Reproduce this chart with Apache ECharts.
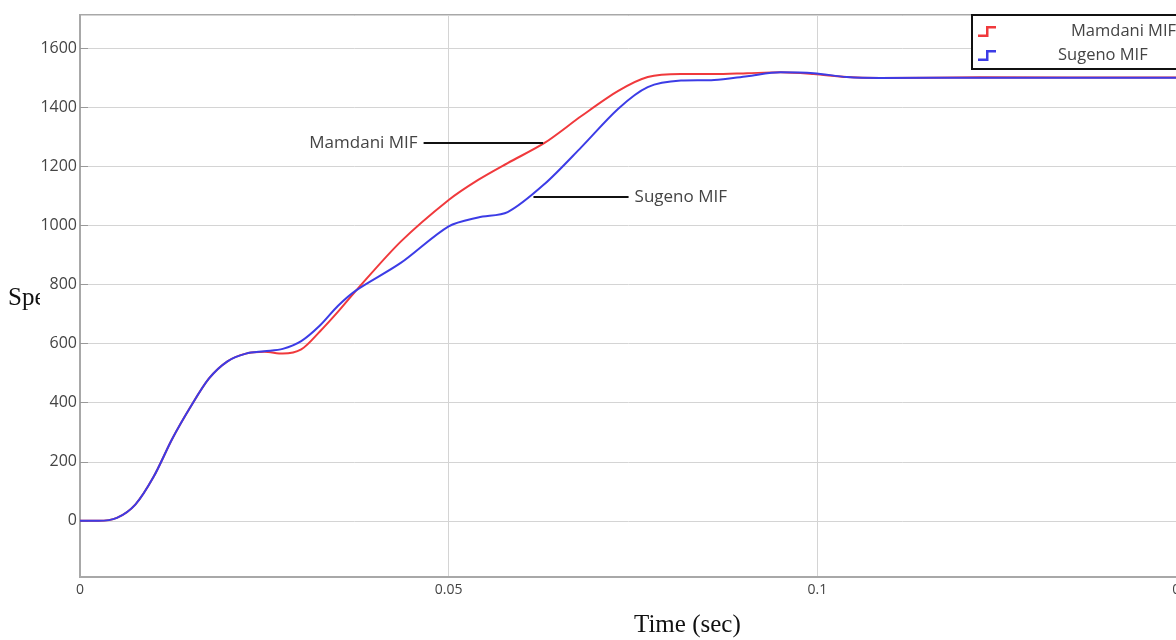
<!DOCTYPE html>
<html>
<head>
    <meta charset="utf-8">
    <title>Speed response</title>
    <script src="https://cdnjs.cloudflare.com/ajax/libs/echarts/6.0.0/echarts.min.js"></script>
    <style>
        html, body { margin: 0; padding: 0; background: #fff; }
    </style>
</head>
<body>
<div id="main" style="width: 1176px;height:640px;"></div>
<script type="text/javascript">
    // time axis (sec) and the two speed responses
    var time = [0, 0.0025, 0.005, 0.0075, 0.01, 0.0125, 0.015, 0.0175, 0.02, 0.0225, 0.025, 0.0275, 0.03, 0.0325,
        0.035, 0.0375, 0.0435, 0.050, 0.054, 0.058, 0.063, 0.068, 0.073, 0.077, 0.0815, 0.086, 0.0905, 0.095,
        0.0995, 0.104, 0.1085, 0.122, 0.15];
    var mamdani = [0, 0, 10, 55, 150, 277, 386, 482, 540, 566, 572, 566, 580, 640,
        708, 781, 945, 1086, 1154, 1211, 1279, 1370, 1455, 1502, 1512, 1512, 1515, 1518,
        1512, 1502, 1499, 1501, 1500];
    var sugeno = [0, 0, 10, 55, 150, 277, 386, 482, 540, 566, 574, 582, 608, 660,
        728, 781, 873, 997, 1027, 1045, 1140, 1265, 1395, 1468, 1490, 1492, 1505, 1518,
        1515, 1502, 1499, 1500, 1500];
    var seriesNames = ['Mamdani MIF', 'Sugeno MIF'];
    var xTicks = [0, 0.05, 0.1, 0.15];
    // annotation leader lines: [x start, x end, y]
    var mamdaniNote = [0.0466, 0.0628, 1279];
    var sugenoNote = [0.0615, 0.0744, 1096];

    function pairs(xs, ys) {
        return xs.map(function (x, i) { return [x, ys[i]]; });
    }

    var myChart = echarts.init(document.getElementById('main'));
    var uiFont = '"Open Sans", "Noto Sans", sans-serif';
    var serifFont = '25px "Liberation Serif", "DejaVu Serif", serif';
    // little step glyph used in the legend
    var stepIcon = 'path://M0,8.5 L8,8.5 L8,0 L18,0 L18,2.5 L10.5,2.5 L10.5,11 L0,11 Z';

    var option = {
        animation: false,
        grid: {
            left: 80, right: -10, top: 15, bottom: 63,
            outerBoundsMode: 'none',
            show: true, borderColor: '#a8a8a8', borderWidth: 2
        },
        legend: {
            orient: 'vertical',
            left: 972, top: 15,
            padding: [8, 40, 5, 6],
            itemGap: 7,
            itemWidth: 18, itemHeight: 11,
            backgroundColor: '#fff',
            borderColor: '#111', borderWidth: 2,
            data: [
                {name: seriesNames[0], icon: stepIcon, textStyle: {padding: [0, 0, 0, 70]}},
                {name: seriesNames[1], icon: stepIcon, textStyle: {padding: [0, 0, 0, 57]}}
            ],
            textStyle: {fontFamily: uiFont, fontSize: 16.5, color: '#444'}
        },
        xAxis: {
            type: 'value',
            min: xTicks[0], max: xTicks[xTicks.length - 1], interval: 0.05,
            axisLine: {onZero: false, lineStyle: {color: '#a8a8a8', width: 2}},
            axisTick: {show: false},
            axisLabel: {color: '#444', fontFamily: uiFont, fontSize: 14, margin: 6},
            splitLine: {lineStyle: {color: '#d4d4d4', width: 1}}
        },
        yAxis: {
            type: 'value',
            min: -190, max: 1712, splitNumber: 9,
            axisLine: {lineStyle: {color: '#a8a8a8', width: 2}},
            axisTick: {show: true, inside: true, length: 8, lineStyle: {color: '#999'}},
            axisLabel: {
                color: '#444', fontFamily: uiFont, fontSize: 16, margin: 3,
                showMinLabel: false, showMaxLabel: false,
                formatter: function (v) { return v % 200 === 0 ? String(v) : ''; }
            },
            splitLine: {lineStyle: {color: '#d4d4d4', width: 1}}
        },
        graphic: [
            {type: 'text', left: 8, top: 286, z: -2,
                style: {text: 'Speed (rpm)', font: serifFont, fill: '#111'}},
            {type: 'rect', left: 40, top: 278, z: -1,
                shape: {width: 120, height: 44}, style: {fill: '#fff'}},
            {type: 'text', left: 634, top: 613,
                style: {text: 'Time (sec)', font: serifFont, fill: '#111'}}
        ],
        series: [{
            name: seriesNames[0],
            type: 'line',
            data: pairs(time, mamdani),
            smooth: 0.3,
            showSymbol: false,
            color: '#f0393c',
            lineStyle: {width: 2},
            markLine: {
                silent: true,
                symbol: ['none', 'none'],
                lineStyle: {color: '#111', width: 2, type: 'solid'},
                label: {position: 'start', formatter: seriesNames[0], color: '#444',
                    fontFamily: uiFont, fontSize: 17, distance: 6},
                data: [[{coord: [mamdaniNote[0], mamdaniNote[2]]}, {coord: [mamdaniNote[1], mamdaniNote[2]]}]]
            }
        }, {
            name: seriesNames[1],
            type: 'line',
            data: pairs(time, sugeno),
            smooth: 0.3,
            showSymbol: false,
            color: '#3c3ce6',
            lineStyle: {width: 2},
            markLine: {
                silent: true,
                symbol: ['none', 'none'],
                lineStyle: {color: '#111', width: 2, type: 'solid'},
                label: {position: 'end', formatter: seriesNames[1], color: '#444',
                    fontFamily: uiFont, fontSize: 17, distance: 6},
                data: [[{coord: [sugenoNote[0], sugenoNote[2]]}, {coord: [sugenoNote[1], sugenoNote[2]]}]]
            }
        }]
    };

    myChart.setOption(option);
</script>
</body>
</html>
